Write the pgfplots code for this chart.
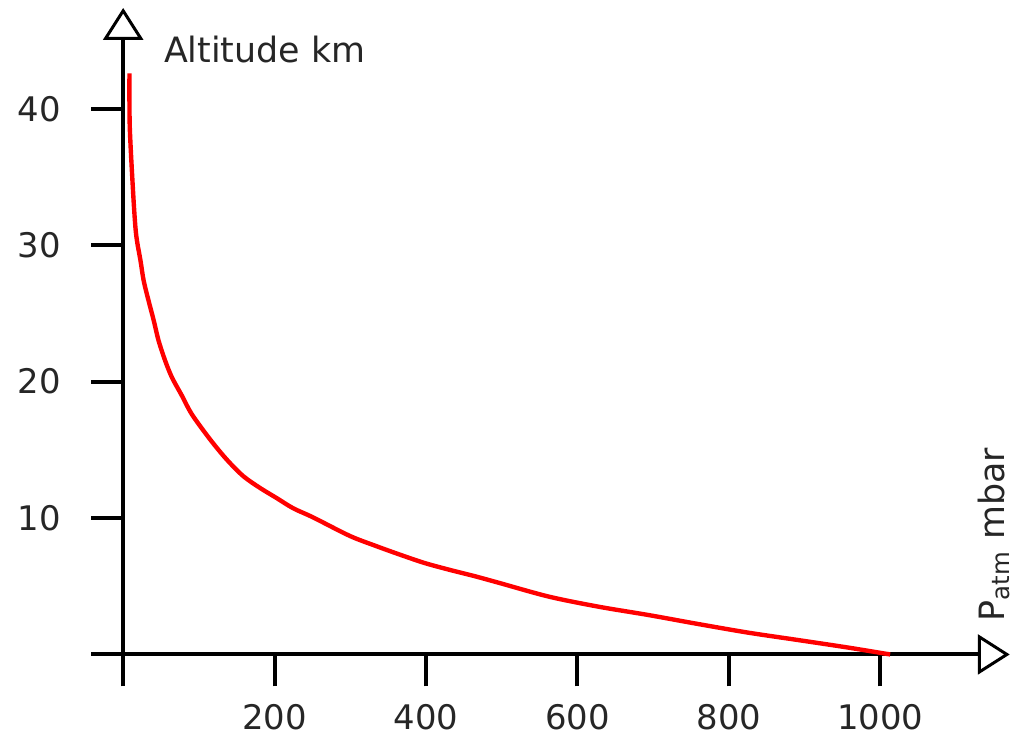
\documentclass[border=0pt]{standalone}
\usepackage{pgfplots}
\pgfplotsset{compat=1.18}
\usepackage{fontspec}
\setmainfont{DejaVu Sans}
\usetikzlibrary{arrows.meta}
\begin{document}
\begin{tikzpicture}
\begin{axis}[
  scale only axis, width=445pt, height=324.5pt,
  xmin=0, xmax=1171, ymin=0, ymax=47.4,
  axis lines=left,
  axis line style={line width=2pt, -{Triangle[open, length=16pt, width=20pt, line width=1.5pt]}},
  xtick={0,200,400,600,800,1000}, xticklabels={,200,400,600,800,1000},
  ytick={0,10,20,30,40}, yticklabels={,10,20,30,40},
  tick align=outside, major tick length=16pt,
  tick style={line width=2pt, black},
  ticklabel style={font=\fontsize{17}{20}\selectfont, text=black!85},
  yticklabel style={inner xsep=9pt, xshift=-6pt},
  xticklabel style={inner ysep=3pt, yshift=-6pt},
  /pgf/number format/assume math mode=true,
  clip=false,
  xlabel={P\textsubscript{atm} mbar}, ylabel={Altitude km},
  every axis x label/.style={at={(axis description cs:0.994,0.043)}, anchor=base west, rotate=90, inner sep=2.5pt, font=\fontsize{17.5}{20}\selectfont, text=black!85},
  every axis y label/.style={at={(axis description cs:0,0.935)}, anchor=west, xshift=17pt, font=\fontsize{17.5}{20}\selectfont, text=black!85},
  extra description/.code={\path (axis description cs:0,1) ++(0,4pt) coordinate (topblank);},
]
\addplot[red, line width=2.2pt, smooth, tension=0.5] coordinates {
  (8.3,42.6) (8.7,38.7) (13.2,33.8) (16.2,31.3) (18.6,30.2) (22.8,28.9)
  (27.1,27.4) (33.7,25.9) (40.3,24.5) (46.8,23.0) (55.7,21.5) (64.5,20.3)
  (77.6,18.97) (90.8,17.6) (114.9,15.76) (136.8,14.29) (158.7,13.07)
  (180.7,12.21) (202.6,11.47) (224.5,10.72) (250.8,10.05) (299,8.7)
  (332,7.99) (364.9,7.33) (397.8,6.71) (430.7,6.21) (463.6,5.75)
  (496.4,5.25) (562.2,4.24) (628,3.5) (693.8,2.89) (759.6,2.23)
  (825.4,1.6) (891,1.06) (956.9,0.51) (1013,0)
};
\end{axis}
\end{tikzpicture}
\end{document}
